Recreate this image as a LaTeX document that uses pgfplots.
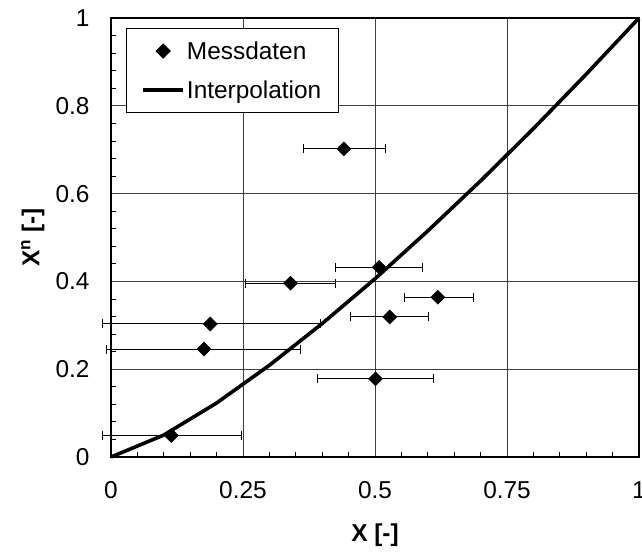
\documentclass[border=0pt]{standalone}
\usepackage{fontspec}
\setmainfont{Liberation Sans}
\usepackage{pgfplots}
\usepackage{pgfplotstable}
\pgfplotsset{compat=1.18}
\pgfplotsset{
  mylinelegend/.style={legend image code/.code={\draw[##1] (0bp,0bp) -- (40bp,0bp);}},
  mymarklegend/.style={legend image code/.code={\draw[##1] plot coordinates {(20bp,0bp)};}},
}
\pgfplotstableread{
x     y     ep    em
0.441 0.702 0.079 0.076
0.508 0.432 0.082 0.082
0.340 0.396 0.086 0.086
0.619 0.364 0.067 0.064
0.528 0.319 0.074 0.075
0.188 0.303 0.208 0.205
0.176 0.246 0.182 0.185
0.114 0.049 0.133 0.131
0.501 0.178 0.110 0.110
}\messdaten
\begin{document}
\begin{tikzpicture}
\begin{axis}[
  scale only axis, width=528bp, height=439bp,
  xmin=0, xmax=1, ymin=0, ymax=1,
  xtick={0,0.25,0.5,0.75,1}, xticklabels={0,0.25,0.5,0.75,1},
  ytick={0,0.2,0.4,0.6,0.8,1}, yticklabels={0,0.2,0.4,0.6,0.8,1},
  minor x tick num=4, minor y tick num=4,
  xtick pos=bottom, ytick pos=left,
  tick align=inside,
  major tick length=0bp, minor tick length=5bp,
  grid=major, major grid style={black!75, line width=0.8bp},
  axis line style={line width=1.3bp},
  tick style={black, line width=0.8bp},
  ticklabel style={font=\fontsize{24.5}{28}\selectfont},
  xticklabel style={yshift=-21bp},
  yticklabel style={xshift=-18bp},
  xlabel={\textbf{X [-]}},
  ylabel={\textbf{X\textsuperscript{n} [-]}},
  xlabel style={at={(axis description cs:0.5,-0.178)}, anchor=center, font=\fontsize{24.5}{28}\selectfont},
  ylabel style={at={(axis description cs:-0.148,0.5)}, anchor=center, font=\fontsize{24.5}{28}\selectfont},
  clip=false,
  legend style={at={(0.0284,0.977)}, anchor=north west, draw=black, line width=0.8bp,
    font=\fontsize{24.5}{28}\selectfont, inner xsep=15bp, inner ysep=11bp, row sep=16bp},
  legend cell align=left,
]
\addplot[only marks, mark=square*, mark size=5bp, mark options={rotate=45, fill=black, draw=black, solid},
  mymarklegend,
  error bars/.cd, x dir=both, x explicit,
  error bar style={black, line width=1bp},
  error mark options={rotate=90, mark size=4.5bp, line width=1bp, black},
] table[x=x, y=y, x error plus=ep, x error minus=em] {\messdaten};
\addlegendentry{Messdaten}
\addplot[black, line width=3.6bp, mark=none, mylinelegend]
  coordinates {(0,0) (0.1,0.050) (0.2,0.123) (0.3,0.209) (0.4,0.304) (0.5,0.406)
               (0.6,0.515) (0.7,0.629) (0.8,0.748) (0.9,0.872) (1,1)};
\addlegendentry{Interpolation}
\end{axis}
\pgfresetboundingbox
\path[use as bounding box] ([xshift=-111bp,yshift=-97bp]current axis.south west)
  rectangle ([xshift=3bp,yshift=18bp]current axis.north east);
\end{tikzpicture}
\end{document}
